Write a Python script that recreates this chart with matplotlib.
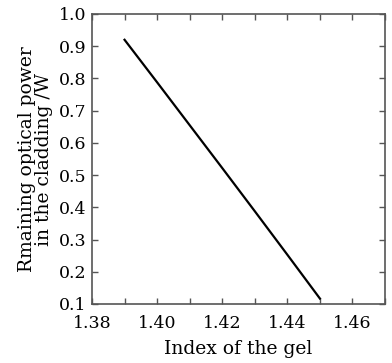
import numpy as np
import matplotlib
matplotlib.use("Agg")
import matplotlib.pyplot as plt
from matplotlib.ticker import MultipleLocator

# data
gel_index = [1.39, 1.40, 1.41, 1.42, 1.43, 1.44, 1.45]
power = [0.92, 0.788, 0.655, 0.522, 0.388, 0.253, 0.117]
x_ticks = [1.38, 1.40, 1.42, 1.44, 1.46]
y_ticks = [0.1, 0.2, 0.3, 0.4, 0.5, 0.6, 0.7, 0.8, 0.9, 1.0]

plt.rcParams['font.family'] = ['DejaVu Serif']

fig = plt.figure(figsize=(3.92, 3.63), dpi=100)
ax = fig.add_axes([92/392, 59/363, 293/392, 290/363])

ax.plot(gel_index, power, color='black', lw=1.6)

ax.set_xlim(1.38, 1.47)
ax.set_ylim(0.1, 1.0)
ax.set_xticks(x_ticks)
ax.set_xticklabels([f'{v:.2f}' for v in x_ticks])
ax.xaxis.set_minor_locator(MultipleLocator(0.01))
ax.set_yticks(y_ticks)
ax.set_yticklabels([f'{v:.1f}' for v in y_ticks])

ax.tick_params(which='both', direction='in', top=True, right=True,
               length=4, width=1, color='#555555', labelsize=12.5)
ax.tick_params(axis='x', pad=8)
ax.tick_params(axis='y', pad=4)
for sp in ax.spines.values():
    sp.set_color('#555555')
    sp.set_linewidth(1.2)

ax.set_xlabel('Index of the gel', fontsize=13.5, labelpad=6)
ax.set_ylabel('Rmaining optical power\nin the cladding /W', fontsize=13.5,
              linespacing=0.95, labelpad=4)

fig.savefig('out.png', dpi=100, facecolor='white')
